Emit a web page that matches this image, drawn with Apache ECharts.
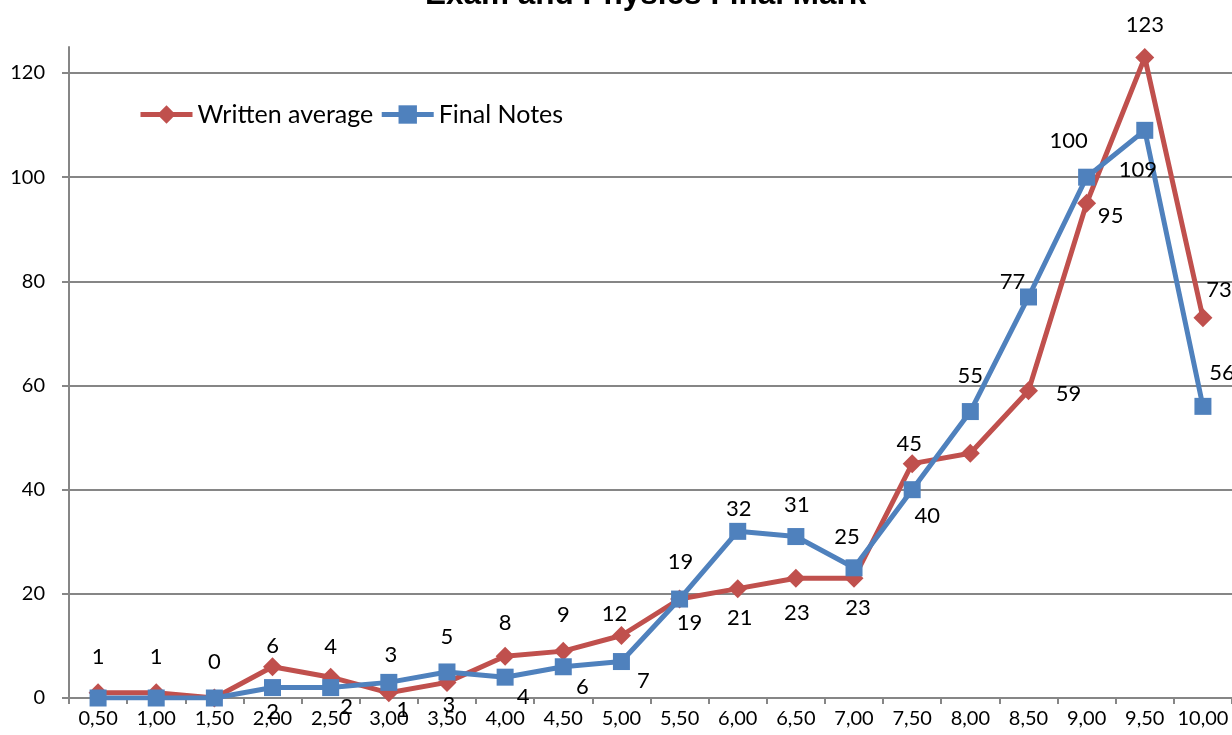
<!DOCTYPE html>
<html>
<head>
<meta charset="utf-8">
<script src="https://cdn.jsdelivr.net/npm/echarts@6/dist/echarts.min.js"></script>
<style>
    html, body { margin: 0; padding: 0; background: #fff; }
    #chart { width: 1232px; height: 735px; }
</style>
</head>
<body>
<div id="chart"></div>
<script>
const categories = ["0,50", "1,00", "1,50", "2,00", "2,50", "3,00", "3,50", "4,00", "4,50", "5,00",
    "5,50", "6,00", "6,50", "7,00", "7,50", "8,00", "8,50", "9,00", "9,50", "10,00"];
const writtenAverage = [1, 1, 0, 6, 4, 1, 3, 8, 9, 12, 19, 21, 23, 23, 45, 47, 59, 95, 123, 73];
const finalNotes = [0, 0, 0, 2, 2, 3, 5, 4, 6, 7, 19, 32, 31, 25, 40, 55, 77, 100, 109, 56];

// where each value label sits relative to its point (null = no label)
const writtenLabelOffsets = [[0, -36], [0, -36], [0, -36], [0, -21], [0, -30], [14, 17], [2, 23], [0, -33],
    [0, -36], [-7, -22], [10, 24], [2, 29], [1, 35], [4, 30], [-3, -20], null, [40, 3], [24, 13], [0, -33], [16, -28]];
const notesLabelOffsets = [null, null, null, [0, 24], [16, 19], [2, -27], [0, -35], [18, 20], [19, 20], [22, 19],
    [1, -37], [1, -22], [1, -32], [-7, -31], [15, 26], [0, -36], [-16, -15], [-18, -36], [-7, 40], [19, -33]];

const RED = "#C0504D";
const BLUE = "#4F81BD";
const GRID_GREY = "#868686";
const FONT = "Lato";

function withLabels(values, offsets) {
    return values.map((v, i) => {
        const off = offsets[i];
        if (!off) {
            return { value: v, label: { show: false } };
        }
        return { value: v, label: { show: true, position: "inside", offset: off } };
    });
}

const chart = echarts.init(document.getElementById("chart"), null, { renderer: "canvas" });

chart.setOption({
    animation: false,
    textStyle: { fontFamily: FONT },
    title: {
        text: "Exam and Physics Final Mark",
        left: 420,
        top: -26,
        textStyle: {
            fontFamily: "Liberation Sans",
            fontWeight: "bold",
            fontSize: 31.5,
            color: "#000",
        },
    },
    legend: {
        left: 138,
        top: 102,
        padding: 0,
        itemWidth: 52,
        itemHeight: 23,
        itemGap: 6,
        lineStyle: { width: 5 },
        textStyle: { fontFamily: FONT, fontSize: 25, color: "#000" },
        data: ["Written average", "Final Notes"],
    },
    grid: {
        left: 69,
        right: 0,
        top: 47,
        bottom: 37,
        containLabel: false,
    },
    xAxis: {
        type: "category",
        data: categories,
        boundaryGap: true,
        axisLine: { lineStyle: { color: GRID_GREY, width: 2 } },
        axisTick: { show: true, length: 6, lineStyle: { color: GRID_GREY, width: 2 } },
        axisLabel: { color: "#000", fontSize: 20, fontFamily: FONT, margin: 11, interval: 0 },
    },
    yAxis: {
        type: "value",
        min: 0,
        max: 125,
        interval: 20,
        axisLine: { show: true, lineStyle: { color: GRID_GREY, width: 2 } },
        axisTick: { show: true, length: 7, lineStyle: { color: GRID_GREY, width: 2 } },
        axisLabel: {
            color: "#000",
            fontSize: 20,
            fontFamily: FONT,
            margin: 24,
            showMaxLabel: false,
            formatter: (v) => (v % 20 === 0 ? String(v) : ""),
        },
        splitLine: { show: true, showMaxLine: false, lineStyle: { color: GRID_GREY, width: 2 } },
    },
    series: [
        {
            name: "Written average",
            type: "line",
            data: withLabels(writtenAverage, writtenLabelOffsets),
            color: RED,
            symbol: "diamond",
            symbolSize: 19,
            lineStyle: { width: 5, color: RED },
            itemStyle: { color: RED },
            label: { fontFamily: FONT, fontSize: 22, color: "#000" },
            emphasis: { disabled: true },
            z: 2,
        },
        {
            name: "Final Notes",
            type: "line",
            data: withLabels(finalNotes, notesLabelOffsets),
            color: BLUE,
            symbol: "rect",
            symbolSize: 17,
            lineStyle: { width: 5, color: BLUE },
            itemStyle: { color: BLUE },
            label: { fontFamily: FONT, fontSize: 22, color: "#000" },
            emphasis: { disabled: true },
            z: 3,
        },
    ],
});
</script>
</body>
</html>
